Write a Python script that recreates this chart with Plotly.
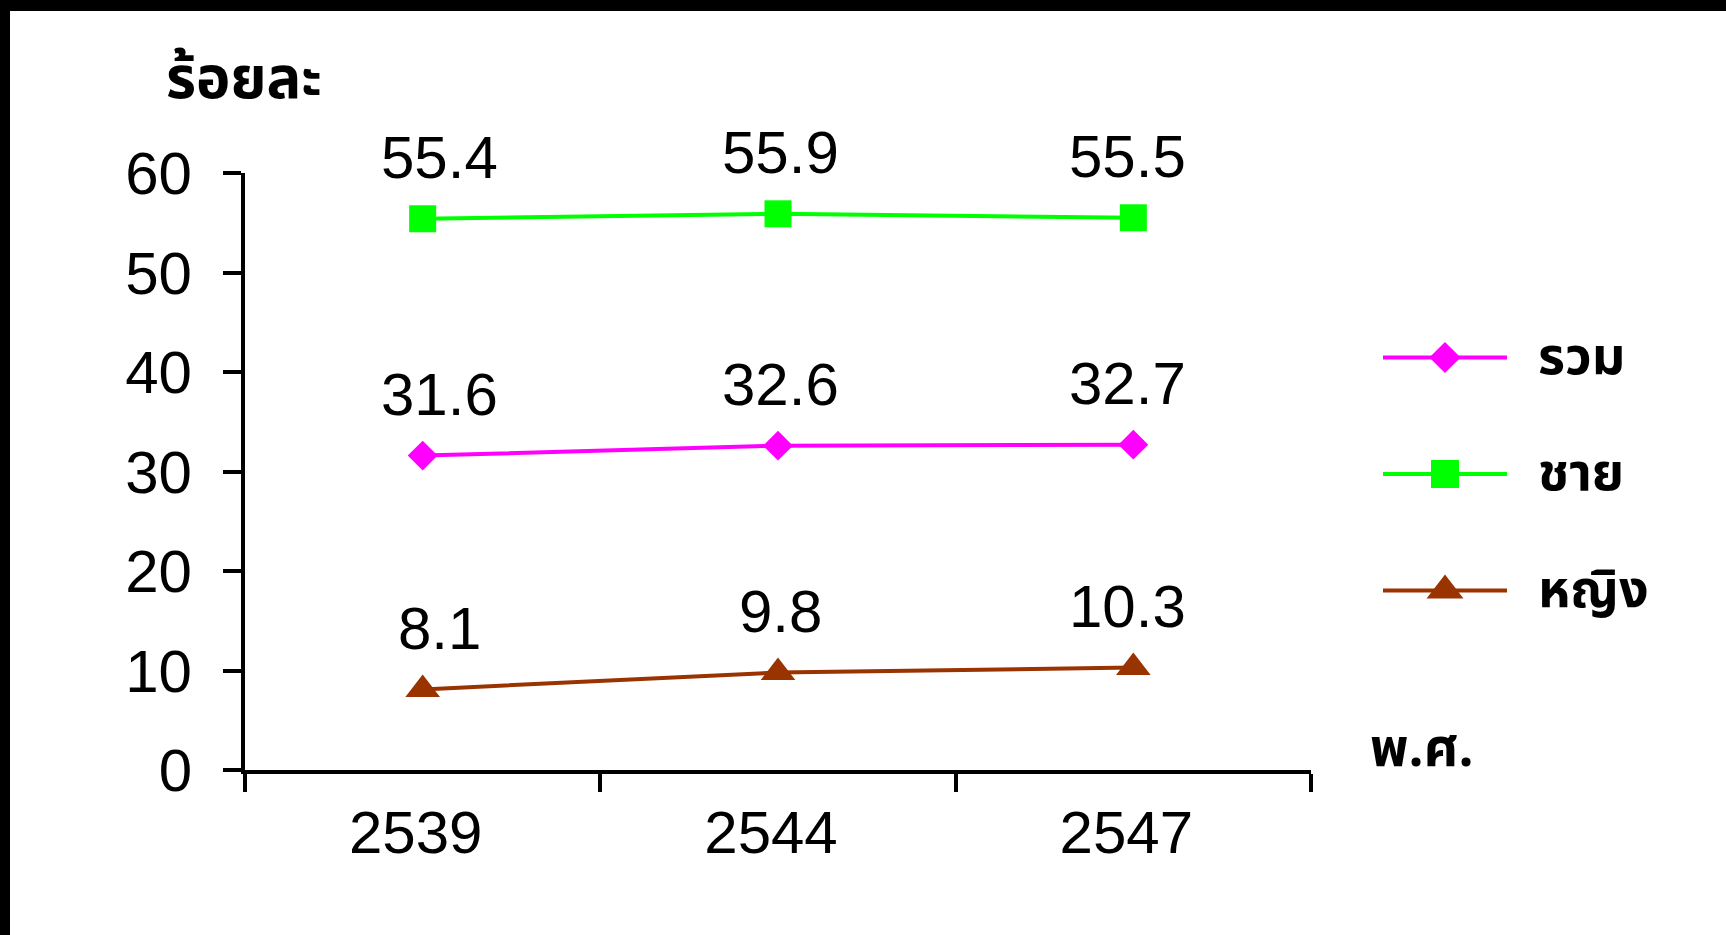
import plotly.graph_objects as go

# Survey years (Buddhist Era) and shares in percent
years = ["2539", "2544", "2547"]
series_names = ["รวม", "ชาย", "หญิง"]
total = [31.6, 32.6, 32.7]
male = [55.4, 55.9, 55.5]
female = [8.1, 9.8, 10.3]
y_ticks = [0, 10, 20, 30, 40, 50, 60]

W, H = 1726, 935
M_L, M_R, M_T, M_B = 245, 20, 173, 165
PW, PH = W - M_L - M_R, H - M_T - M_B


def px_x(x):
    return (x - M_L) / PW


def px_y(y):
    return (H - M_B - y) / PH


colors = ["#FF00FF", "#00FF00", "#993300"]
symbols = ["diamond", "square", "triangle-up"]
sizes = [23, 27, 30]
key_sizes = [24, 28, 32]
label_dx = [17, 2, -6]

NUM_FONT = "Liberation Sans, Arial, sans-serif"
THAI_FONT = "Noto Sans Thai, Noto Sans Thai Looped, Noto Sans, sans-serif"

fig = go.Figure()
series = [total, male, female]
for name, vals, col, sym, sz in zip(series_names, series, colors, symbols, sizes):
    fig.add_trace(go.Scatter(
        x=years, y=vals, name=name, mode="lines+markers",
        line=dict(color=col, width=4),
        marker=dict(symbol=sym, size=sz, color=col, opacity=1, line=dict(width=0)),
        showlegend=False, xaxis="x", yaxis="y",
    ))
    for i, v in enumerate(vals):
        fig.add_annotation(
            xref="x", yref="y", x=i, y=v, text=f"{v:.1f}", showarrow=False,
            xanchor="center", yanchor="middle",
            xshift=label_dx[i], yshift=61,
            font=dict(family=NUM_FONT, size=60, color="black"),
        )

# Key: one short line with its marker per series, stacked top to bottom
n = len(series_names)
for k, (name, col, sym, ks) in enumerate(zip(series_names, colors, symbols, key_sizes)):
    row = n - 1 - k
    fig.add_trace(go.Scatter(
        x=[0, 1], y=[row, row], mode="lines",
        line=dict(color=col, width=4),
        showlegend=False, hoverinfo="skip", xaxis="x2", yaxis="y2",
    ))
    fig.add_trace(go.Scatter(
        x=[0.5], y=[row], mode="markers",
        marker=dict(symbol=sym, size=ks, color=col, opacity=1, line=dict(width=0)),
        showlegend=False, hoverinfo="skip", xaxis="x2", yaxis="y2",
    ))
    fig.add_annotation(
        xref="x2", yref="y2", x=1, y=row, text=f"<b>{name}</b>", showarrow=False,
        xanchor="left", yanchor="middle", xshift=29,
        font=dict(family=THAI_FONT, size=52, color="black"),
    )

# Axis captions
fig.add_annotation(
    xref="paper", yref="paper", x=px_x(244), y=px_y(80), text="<b>ร้อยละ</b>",
    showarrow=False, xanchor="center", yanchor="middle",
    font=dict(family=THAI_FONT, size=58, color="black"),
)
fig.add_annotation(
    xref="paper", yref="paper", x=px_x(1422), y=px_y(750), text="<b>พ.ศ.</b>",
    showarrow=False, xanchor="center", yanchor="middle",
    font=dict(family=THAI_FONT, size=53, color="black"),
)

# Frame strips along the top and left edges
fig.add_shape(type="rect", xref="paper", yref="paper", x0=px_x(0), x1=px_x(W), y0=px_y(11), y1=px_y(0),
              fillcolor="black", line=dict(width=0), layer="above")
fig.add_shape(type="rect", xref="paper", yref="paper", x0=px_x(0), x1=px_x(10), y0=px_y(H), y1=px_y(0),
              fillcolor="black", line=dict(width=0), layer="above")

fig.update_layout(
    width=W, height=H, autosize=False,
    margin=dict(l=M_L, r=M_R, t=M_T, b=M_B, pad=0),
    paper_bgcolor="white", plot_bgcolor="white",
    showlegend=False,
    xaxis=dict(
        domain=[0, px_x(1311)],
        type="category", tickson="boundaries", range=[-0.5, 2.5],
        showline=True, linecolor="black", linewidth=4,
        ticks="outside", ticklen=18, tickwidth=4, tickcolor="black",
        ticklabelstandoff=7, ticklabelshift=-7,
        showgrid=False, zeroline=False,
        tickfont=dict(family=NUM_FONT, size=60, color="black"),
    ),
    yaxis=dict(
        range=[0, 60], tickvals=y_ticks,
        showline=True, linecolor="black", linewidth=4,
        ticks="outside", ticklen=18, tickwidth=4, tickcolor="black",
        ticklabelstandoff=19,
        showgrid=False, zeroline=False,
        tickfont=dict(family=NUM_FONT, size=60, color="black"),
    ),
    xaxis2=dict(domain=[px_x(1383), px_x(1507)], range=[0, 1], visible=False, anchor="y2"),
    yaxis2=dict(domain=[px_y(648.75), px_y(299.25)], range=[-0.5, 2.5], visible=False, anchor="x2"),
)

fig.write_html("out.html")
